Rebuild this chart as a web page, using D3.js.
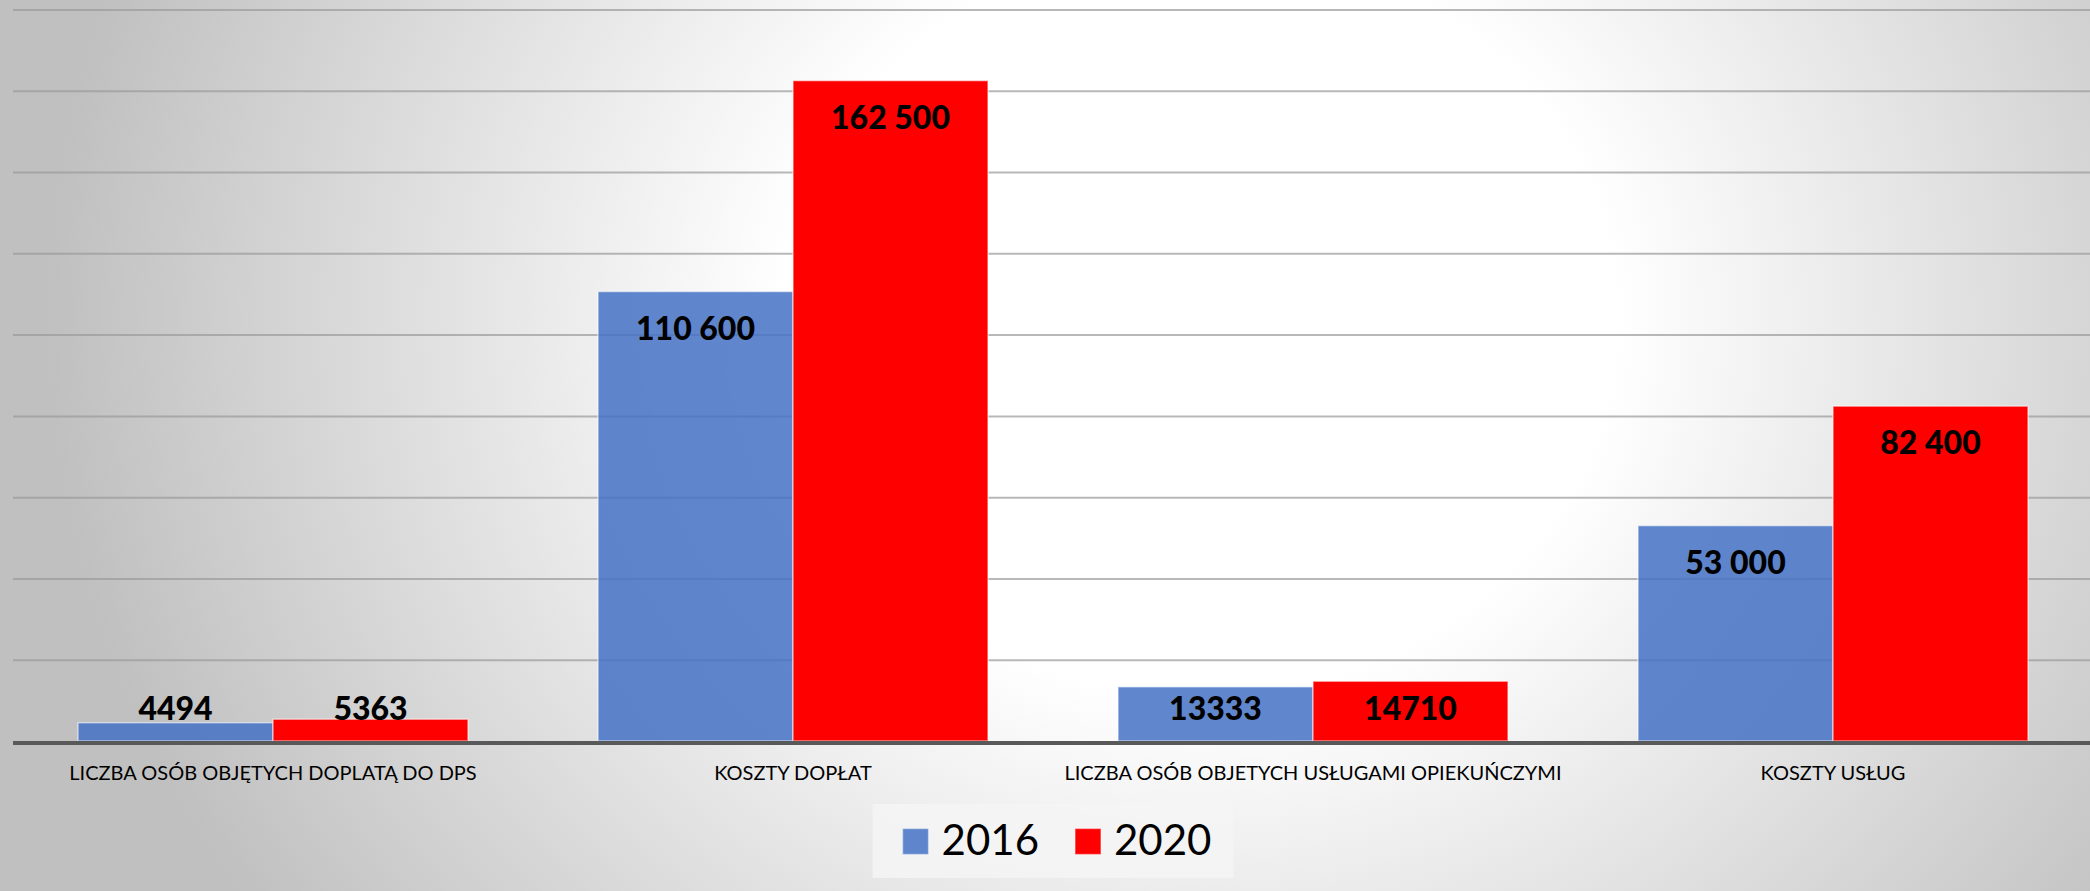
<!DOCTYPE html>
<html>
<head>
<meta charset="utf-8">
<script src="https://cdn.jsdelivr.net/npm/d3@7"></script>
<style>
  html, body { margin: 0; padding: 0; background: #fff; }
  svg { display: block; }
</style>
</head>
<body>
<svg id="chart" width="2090" height="891"></svg>
<script>
// ---- data ----
const categories = [
  "LICZBA OSÓB OBJĘTYCH DOPLATĄ DO DPS",
  "KOSZTY DOPŁAT",
  "LICZBA OSÓB OBJETYCH USŁUGAMI OPIEKUŃCZYMI",
  "KOSZTY USŁUG"
];
const seriesNames = ["2016", "2020"];
const values2016 = [4494, 110600, 13333, 53000];
const values2020 = [5363, 162500, 14710, 82400];
const valueLabels2016 = ["4494", "110 600", "13333", "53 000"];
const valueLabels2020 = ["5363", "162 500", "14710", "82 400"];
const seriesColors = ["#4472C4", "#FF0000"];
const gridTicks = [20000, 40000, 60000, 80000, 100000, 120000, 140000, 160000, 180000];

// ---- layout ----
const W = 2090, H = 891;
const plotLeft = 13, plotRight = 2093, plotTop = 9.5, plotBottom = 741;

const svg = d3.select("#chart");
const defs = svg.append("defs");

const grad = defs.append("radialGradient")
  .attr("id", "bg")
  .attr("gradientUnits", "userSpaceOnUse")
  .attr("cx", 1200).attr("cy", 320).attr("r", 1150)
  .attr("gradientTransform", "translate(1200,320) scale(1,0.9) translate(-1200,-320)");
grad.append("stop").attr("offset", 0).attr("stop-color", "#ffffff");
grad.append("stop").attr("offset", 0.36).attr("stop-color", "#ffffff");
grad.append("stop").attr("offset", 1).attr("stop-color", "#c0c0c0");

svg.append("rect").attr("width", W).attr("height", H).attr("fill", "url(#bg)");

const data = categories.map((c, i) => ({
  cat: c,
  vals: [
    { s: seriesNames[0], v: values2016[i], label: valueLabels2016[i], color: seriesColors[0] },
    { s: seriesNames[1], v: values2020[i], label: valueLabels2020[i], color: seriesColors[1] }
  ]
}));

const x0 = d3.scaleBand().domain(categories).range([plotLeft, plotRight])
  .paddingInner(0.25).paddingOuter(0.125);
const x1 = d3.scaleBand().domain(seriesNames).range([0, x0.bandwidth()]);
const y = d3.scaleLinear().domain([0, 180000]).range([plotBottom, plotTop]);

// gridlines
const grid = svg.append("g")
  .attr("transform", `translate(${plotLeft},0)`)
  .call(d3.axisLeft(y).tickValues(gridTicks).tickSize(-(W - plotLeft)).tickFormat(""));
grid.select(".domain").remove();
grid.selectAll(".tick line").attr("stroke", "#9a9a9a").attr("stroke-opacity", 0.7).attr("stroke-width", 2);

// bars
const groups = svg.append("g").selectAll("g").data(data).join("g")
  .attr("transform", d => `translate(${x0(d.cat)},0)`);

groups.selectAll("rect").data(d => d.vals).join("rect")
  .attr("x", d => x1(d.s))
  .attr("y", d => y(d.v))
  .attr("width", x1.bandwidth())
  .attr("height", d => y(0) - y(d.v))
  .attr("fill", d => d.color)
  .attr("fill-opacity", d => d.s === "2016" ? 0.85 : 1)
  .attr("stroke", "#ffffff")
  .attr("stroke-opacity", 0.55)
  .attr("stroke-width", 1.4);

// value labels
groups.selectAll("text.val").data(d => d.vals).join("text")
  .attr("class", "val")
  .attr("x", d => x1(d.s) + x1.bandwidth() / 2)
  .attr("y", d => Math.min(y(d.v) + 48, y(0) - 21))
  .attr("text-anchor", "middle")
  .attr("font-family", "Lato, 'Open Sans', sans-serif")
  .attr("font-weight", 900)
  .attr("font-size", 32)
  .attr("fill", "#000")
  .text(d => d.label);

// baseline axis
const xAxis = svg.append("g")
  .attr("transform", `translate(0,${y(0)})`)
  .call(d3.axisBottom(x0).tickSize(0).tickPadding(39));
xAxis.select(".domain").remove();
xAxis.append("line")
  .attr("x1", plotLeft).attr("x2", W)
  .attr("y1", 2).attr("y2", 2)
  .attr("stroke", "#595959").attr("stroke-width", 4);
xAxis.selectAll(".tick text")
  .attr("font-family", "Lato, 'Open Sans', sans-serif")
  .attr("font-size", 20)
  .attr("fill", "#000")
  .attr("dy", 0);

// legend
const legendCx = (plotLeft + plotRight) / 2;
const legend = svg.append("g");
const legendBox = legend.append("rect")
  .attr("x", legendCx - 180.5).attr("width", 361)
  .attr("y", 804).attr("height", 74)
  .attr("fill", "#f4f4f4").attr("fill-opacity", 0.85);
const items = legend.selectAll("g").data(seriesNames).join("g");
items.append("rect")
  .attr("width", 26).attr("height", 26).attr("y", 828.5)
  .attr("fill", (d, i) => seriesColors[i])
  .attr("fill-opacity", (d, i) => i === 0 ? 0.85 : 1)
  .attr("stroke", "#ffffff").attr("stroke-opacity", 0.45).attr("stroke-width", 1.4);
items.append("text")
  .attr("x", 39).attr("y", 855)
  .attr("font-family", "Lato, 'Open Sans', sans-serif")
  .attr("font-size", 42)
  .attr("fill", "#000")
  .text(d => d);
let cursor = 0;
const offsets = [];
items.each(function () {
  const w = this.getBBox().width;
  offsets.push(cursor);
  cursor += w + 36;
});
const totalW = cursor - 36;
const startX = legendCx - totalW / 2 + 4;
items.attr("transform", (d, i) => `translate(${startX + offsets[i]},0)`);
</script>
</body>
</html>
